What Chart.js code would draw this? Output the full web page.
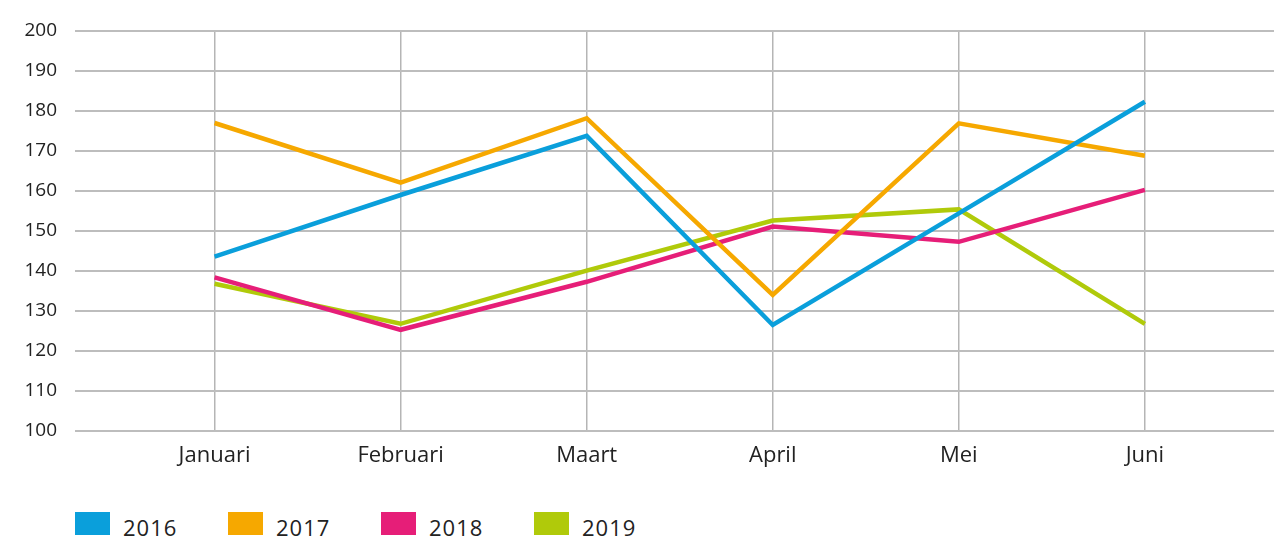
<!DOCTYPE html>
<html>
<head>
<meta charset="utf-8">
<script src="https://cdn.jsdelivr.net/npm/chart.js@4"></script>
<style>
  body { margin: 0; overflow: hidden; background: #fff; font-family: "Open Sans", sans-serif; }
  #wrap { position: relative; width: 1274px; height: 480px; }
  #legend { position: absolute; left: 75px; top: 512px; display: flex; }
  .item { display: flex; align-items: center; width: 153px; }
  .box { width: 35px; height: 23px; margin-right: 13px; }
  .lbl { font-size: 22px; color: #222; letter-spacing: 1px; line-height: 23px; position: relative; top: 4px; }
</style>
</head>
<body>
<div id="wrap"><canvas id="chart"></canvas></div>
<div id="legend"></div>
<script>
var months = ['Januari', 'Februari', 'Maart', 'April', 'Mei', 'Juni'];
var years = ['2016', '2017', '2018', '2019'];
var colors = ['#0a9fdb', '#f6a800', '#e61e78', '#b0ca0a'];

var v2016 = [143.6, 159, 173.8, 126.5, 154.4, 182.3];
var v2017 = [177, 162.1, 178.2, 134, 176.9, 168.8];
var v2018 = [138.4, 125.3, 137.3, 151.1, 147.3, 160.3];
var v2019 = [136.8, 126.8, 140.1, 152.6, 155.4, 126.8];
var yTicks = [100, 110, 120, 130, 140, 150, 160, 170, 180, 190, 200];

var series = [v2016, v2017, v2018, v2019];

var datasets = series.map(function (vals, i) {
    return {
        label: years[i],
        data: vals.map(function (v, j) { return { x: j, y: v }; }),
        borderColor: colors[i],
        backgroundColor: colors[i],
        borderWidth: 4.5,
        pointRadius: 0,
        tension: 0,
        fill: false
    };
});

var ctx = document.getElementById('chart').getContext('2d');
new Chart(ctx, {
    type: 'line',
    data: { datasets: datasets },
    options: {
        responsive: true,
        maintainAspectRatio: false,
        animation: false,
        layout: { padding: { top: 31, right: 0, left: 0, bottom: 0 } },
        plugins: { legend: { display: false }, tooltip: { enabled: false } },
        scales: {
            x: {
                type: 'linear',
                min: -0.75,
                max: 5.694,
                afterFit: function (scale) { scale.height = 49; },
                border: { display: false },
                grid: { color: '#b5b5b5', lineWidth: 1.5, drawTicks: false },
                ticks: {
                    stepSize: 1,
                    includeBounds: false,
                    autoSkip: false,
                    maxRotation: 0,
                    padding: 12,
                    color: '#222',
                    font: { family: 'Open Sans', size: 22 },
                    callback: function (v) { return months[v] !== undefined ? months[v] : ''; }
                }
            },
            y: {
                min: yTicks[0],
                max: yTicks[yTicks.length - 1],
                afterFit: function (scale) { scale.width = 75; },
                afterBuildTicks: function (scale) {
                    scale.ticks = yTicks.map(function (t) { return { value: t }; });
                },
                border: { display: false },
                grid: { color: '#bdbdbd', lineWidth: 2, drawTicks: false },
                ticks: {
                    padding: 18,
                    color: '#222',
                    font: { family: 'Open Sans', size: 19 }
                }
            }
        }
    }
});

var legend = document.getElementById('legend');
datasets.forEach(function (ds) {
    var item = document.createElement('div');
    item.className = 'item';
    var box = document.createElement('div');
    box.className = 'box';
    box.style.background = ds.backgroundColor;
    var lbl = document.createElement('span');
    lbl.className = 'lbl';
    lbl.textContent = ds.label;
    item.appendChild(box);
    item.appendChild(lbl);
    legend.appendChild(item);
});
</script>
</body>
</html>
